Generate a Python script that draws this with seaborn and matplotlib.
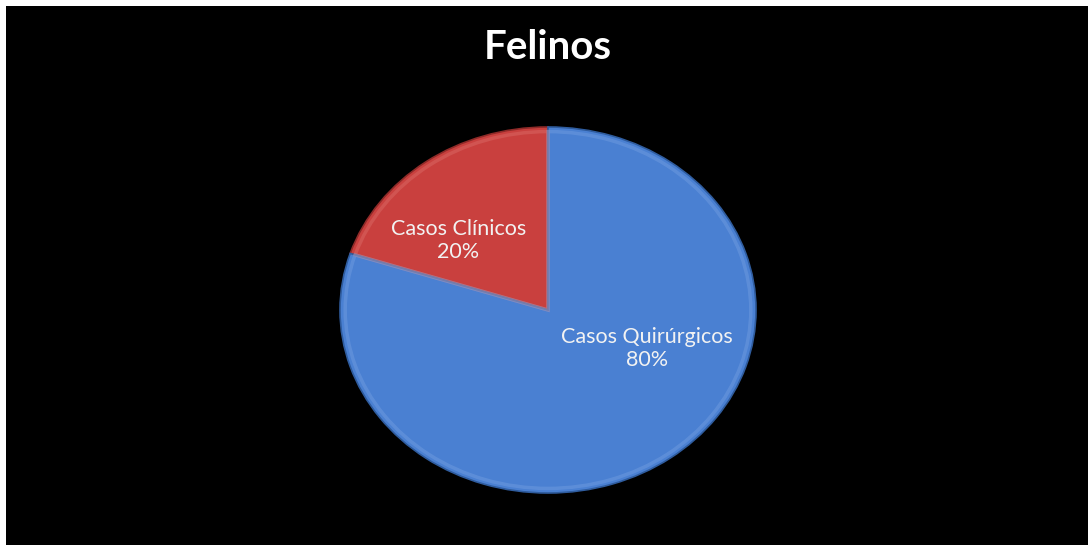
import matplotlib
matplotlib.use("Agg")
import matplotlib.pyplot as plt
import seaborn as sns

# Chart data
categories = ["Casos Clínicos", "Casos Quirúrgicos"]
shares = [20, 80]
title = "Felinos"

sns.set_theme(style="dark")
plt.rcParams["font.family"] = ["Lato", "DejaVu Sans"]

colors = ["#C9403E", "#4A80D2"]
edge_colors = ["#8E2A28", "#2F5C9E"]
highlight_colors = ["#E07A76", "#7FA8E6"]

fig = plt.figure(figsize=(10.88, 5.45), dpi=100)
fig.patch.set_facecolor("white")

# black panel with a thin white margin on the left/top
bg = fig.add_axes([6 / 1088, 0, 1 - 6 / 1088, 1 - 6 / 545])
bg.set_facecolor("black")
bg.set_xticks([])
bg.set_yticks([])
for s in bg.spines.values():
    s.set_visible(False)

# pie axes sized so the disc renders as a slightly flattened ellipse
ax = fig.add_axes([340 / 1088, 52 / 545, 416 / 1088, 366 / 545])
ax.set_facecolor("none")
wedges, _ = ax.pie(
    shares,
    colors=colors,
    startangle=90,
    counterclock=True,
    wedgeprops=dict(linewidth=1.2),
)
for w, ec in zip(wedges, edge_colors):
    w.set_edgecolor(ec)

# soft bevel: faint lighter rim just inside each slice
rims, _ = ax.pie(
    shares,
    colors=["none", "none"],
    startangle=90,
    counterclock=True,
    radius=0.975,
    wedgeprops=dict(linewidth=2.5, fill=False),
)
for r, hc in zip(rims, highlight_colors):
    r.set_edgecolor(hc)
    r.set_alpha(0.35)

ax.set_aspect("auto")
ax.set_xlim(-1, 1)
ax.set_ylim(-1, 1)
ax.axis("off")

# slice labels
label_pos = [(-0.43, 0.38), (0.475, -0.21)]
for (x, y), name, val in zip(label_pos, categories, shares):
    ax.text(x, y, f"{name}\n{val}%", ha="center", va="center",
            color="#F2F2F2", fontsize=15.5, linespacing=1.2)

fig.text(548 / 1088, 1 - 47 / 545, title, ha="center", va="center",
         color="white", fontsize=29, fontweight="bold")

fig.savefig("out.png", dpi=100, facecolor=fig.get_facecolor())
